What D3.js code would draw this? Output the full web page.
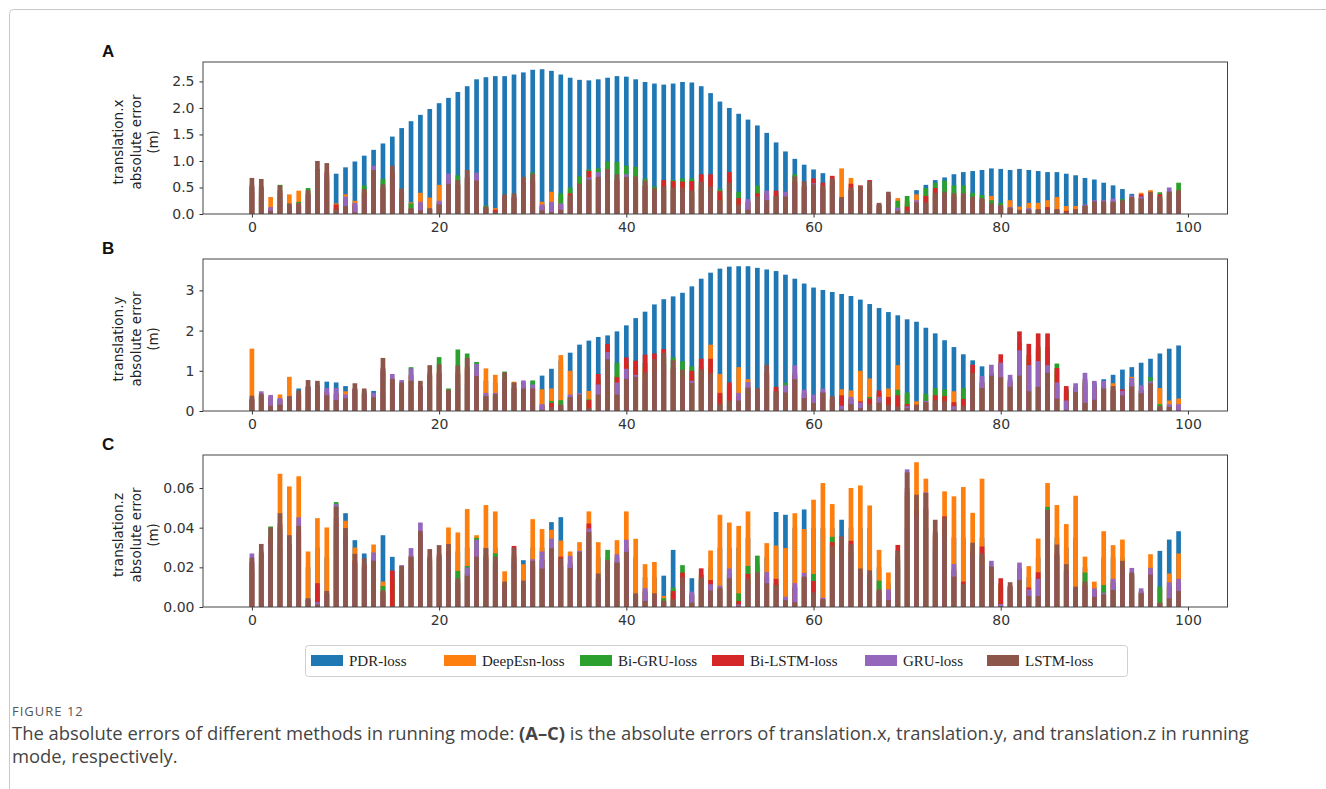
<!DOCTYPE html>
<html>
<head>
<meta charset="utf-8">
<script src="https://cdn.jsdelivr.net/npm/d3@7"></script>
<style>
body { margin: 0; background: #fff; }
svg { display: block; }
</style>
</head>
<body>
<div id="root"></div>
<script>
// series names + tab10 colours, drawn in this order (later bars cover earlier ones)
var seriesNames = ["PDR-loss", "DeepEsn-loss", "Bi-GRU-loss", "Bi-LSTM-loss", "GRU-loss", "LSTM-loss"];
var seriesColors = ["#1f77b4", "#ff7f0e", "#2ca02c", "#d62728", "#9467bd", "#8c564b"];
var xTickValues = [0, 20, 40, 60, 80, 100];
var yTicksA = [0, 0.5, 1.0, 1.5, 2.0, 2.5];
var yTicksB = [0, 1, 2, 3];
var yTicksC = [0, 0.02, 0.04, 0.06];

// ---- panel A : translation.x ----
var xPDR = [0.40,0.35,0.05,0.30,0.15,0.15,0.30,0.50,0.60,0.76, 0.88,0.99,1.10,1.21,1.33,1.46,1.62,1.75,1.87,1.98,
  2.09,2.19,2.30,2.41,2.54,2.58,2.60,2.60,2.63,2.67, 2.72,2.73,2.70,2.63,2.57,2.53,2.52,2.54,2.57,2.60,
  2.59,2.54,2.49,2.46,2.44,2.46,2.49,2.48,2.41,2.28, 2.12,2.00,1.89,1.78,1.67,1.53,1.35,1.18,1.04,0.93,
  0.84,0.77,0.65,0.25,0.45,0.40,0.50,0.10,0.30,0.05, 0.20,0.45,0.55,0.64,0.69,0.75,0.79,0.81,0.83,0.86,
  0.85,0.83,0.85,0.83,0.81,0.79,0.79,0.76,0.73,0.68, 0.65,0.59,0.54,0.47,0.38,0.30,0.35,0.30,0.35,0.40];
var xDeepEsn = [0.45,0.40,0.32,0.40,0.37,0.44,0.40,0.70,0.65,0.20, 0.37,0.25,0.42,0.65,0.50,0.70,0.40,0.22,0.40,0.31,
  0.55,0.55,0.55,0.60,0.55,0.12,0.11,0.28,0.30,0.50, 0.60,0.23,0.42,0.30,0.30,0.45,0.55,0.60,0.70,0.65,
  0.60,0.60,0.52,0.40,0.45,0.45,0.45,0.40,0.55,0.48, 0.35,0.55,0.30,0.20,0.40,0.35,0.32,0.30,0.60,0.50,
  0.50,0.45,0.55,0.86,0.68,0.45,0.50,0.15,0.35,0.30, 0.25,0.37,0.35,0.40,0.40,0.40,0.40,0.30,0.28,0.34,
  0.15,0.26,0.14,0.21,0.21,0.26,0.32,0.15,0.15,0.12, 0.18,0.18,0.20,0.20,0.30,0.40,0.45,0.30,0.38,0.40];
var xBiGRU = [0.50,0.48,0.09,0.55,0.14,0.23,0.49,0.78,0.70,0.12, 0.25,0.15,0.54,0.70,0.66,0.74,0.38,0.20,0.18,0.08,
  0.20,0.60,0.73,0.68,0.60,0.16,0.06,0.30,0.30,0.55, 0.78,0.14,0.18,0.39,0.50,0.71,0.84,0.86,0.99,0.98,
  0.91,0.89,0.67,0.52,0.55,0.64,0.67,0.67,0.60,0.62, 0.47,0.66,0.42,0.20,0.54,0.36,0.36,0.35,0.75,0.50,
  0.55,0.48,0.60,0.25,0.45,0.45,0.52,0.16,0.33,0.25, 0.34,0.20,0.49,0.59,0.63,0.54,0.54,0.40,0.36,0.26,
  0.21,0.10,0.06,0.08,0.07,0.10,0.07,0.05,0.07,0.14, 0.20,0.21,0.22,0.28,0.28,0.30,0.35,0.41,0.40,0.59];
var xBiLSTM = [0.55,0.52,0.10,0.45,0.16,0.17,0.38,0.85,0.80,0.18, 0.28,0.18,0.40,0.75,0.48,0.78,0.41,0.09,0.20,0.09,
  0.22,0.65,0.55,0.70,0.66,0.12,0.08,0.32,0.33,0.60, 0.65,0.15,0.20,0.17,0.39,0.57,0.81,0.68,0.72,0.64,
  0.62,0.60,0.54,0.42,0.64,0.62,0.61,0.62,0.75,0.75, 0.43,0.79,0.30,0.24,0.39,0.38,0.44,0.36,0.61,0.53,
  0.67,0.59,0.72,0.28,0.57,0.54,0.64,0.18,0.36,0.10, 0.14,0.22,0.34,0.49,0.36,0.33,0.33,0.28,0.26,0.17,
  0.15,0.11,0.07,0.09,0.08,0.13,0.08,0.06,0.08,0.15, 0.22,0.22,0.25,0.22,0.30,0.37,0.36,0.37,0.43,0.38];
var xGRU = [0.52,0.50,0.13,0.40,0.15,0.16,0.35,0.80,0.74,0.07, 0.33,0.21,0.38,0.91,0.45,0.72,0.40,0.09,0.23,0.09,
  0.25,0.76,0.52,0.66,0.78,0.11,0.03,0.30,0.31,0.56, 0.60,0.18,0.23,0.20,0.28,0.45,0.69,0.79,0.68,0.60,
  0.75,0.57,0.50,0.39,0.42,0.40,0.40,0.35,0.49,0.42, 0.21,0.47,0.14,0.28,0.26,0.44,0.27,0.42,0.57,0.50,
  0.58,0.43,0.54,0.26,0.40,0.42,0.50,0.17,0.34,0.12, 0.05,0.26,0.18,0.32,0.34,0.31,0.31,0.26,0.24,0.16,
  0.14,0.13,0.06,0.11,0.07,0.07,0.07,0.03,0.07,0.18, 0.26,0.26,0.29,0.21,0.35,0.33,0.34,0.26,0.50,0.36];
var xLSTM = [0.68,0.66,0.06,0.54,0.20,0.21,0.45,1.00,0.96,0.09, 0.15,0.03,0.47,0.83,0.56,0.91,0.48,0.11,0.07,0.11,
  0.18,0.57,0.64,0.83,0.63,0.14,0.04,0.37,0.39,0.70, 0.76,0.07,0.04,0.08,0.35,0.56,0.65,0.70,0.85,0.75,
  0.70,0.71,0.63,0.49,0.52,0.50,0.50,0.44,0.61,0.52, 0.26,0.59,0.18,0.08,0.33,0.26,0.34,0.33,0.71,0.62,
  0.56,0.54,0.67,0.32,0.50,0.53,0.62,0.21,0.42,0.06, 0.06,0.22,0.22,0.40,0.42,0.39,0.39,0.33,0.30,0.20,
  0.17,0.12,0.08,0.08,0.09,0.09,0.09,0.04,0.09,0.16, 0.24,0.24,0.23,0.26,0.32,0.29,0.42,0.33,0.42,0.45];

// ---- panel B : translation.y ----
var yPDR = [0.30,0.35,0.25,0.30,0.40,0.56,0.60,0.65,0.73,0.71, 0.62,0.55,0.50,0.50,0.45,0.40,0.45,0.50,0.55,0.60,
  0.65,0.50,0.60,0.65,0.70,0.75,0.70,0.75,0.70,0.72, 0.74,0.88,1.05,1.25,1.45,1.65,1.75,1.84,1.88,1.98,
  2.13,2.31,2.47,2.65,2.78,2.85,2.94,3.10,3.29,3.44, 3.54,3.59,3.60,3.60,3.56,3.52,3.48,3.39,3.29,3.17,
  3.07,3.01,2.96,2.91,2.86,2.77,2.66,2.56,2.46,2.38, 2.28,2.22,2.07,1.93,1.76,1.59,1.41,1.26,1.11,0.95,
  0.85,0.80,0.70,0.65,0.60,0.60,0.62,0.55,0.60,0.65, 0.70,0.79,0.90,1.03,1.09,1.20,1.30,1.43,1.55,1.63];
var yDeepEsn = [1.55,0.35,0.30,0.41,0.85,0.38,0.55,0.55,0.42,0.40, 0.49,0.50,0.40,0.32,0.95,0.70,0.58,0.85,0.55,0.85,
  0.95,0.40,1.00,1.05,0.95,1.06,0.90,0.80,0.73,0.58, 0.60,0.54,0.56,1.39,1.00,0.38,0.50,0.75,1.30,0.90,
  1.10,1.05,1.10,1.20,1.30,1.10,1.00,0.90,1.00,1.65, 0.92,0.55,1.09,0.79,0.45,0.90,0.45,0.60,0.85,0.40,
  0.30,0.42,0.28,0.54,0.51,1.00,0.81,0.40,0.56,1.14, 0.40,0.24,0.35,0.50,0.45,0.49,0.45,0.90,0.65,0.85,
  1.10,0.70,1.50,1.30,1.50,1.50,1.00,0.45,0.50,0.70, 0.55,0.55,0.69,0.45,0.85,0.50,0.70,0.57,0.26,0.31];
var yBiGRU = [0.25,0.38,0.30,0.25,0.28,0.40,0.58,0.58,0.45,0.42, 0.30,0.52,0.42,0.35,1.00,0.75,0.60,1.09,0.58,0.88,
  1.34,0.56,1.53,1.43,1.22,0.35,0.36,0.98,0.55,0.60, 0.76,0.12,0.25,0.27,0.32,0.36,0.29,0.80,1.40,1.20,
  1.20,1.10,1.20,1.25,1.35,1.33,1.24,1.11,1.10,1.10, 0.40,0.60,0.35,0.55,0.45,0.92,0.50,0.70,0.90,0.42,
  0.33,0.45,0.30,0.30,0.28,0.20,0.35,0.45,0.30,0.53, 0.46,0.12,0.43,0.57,0.54,0.18,0.57,1.00,0.70,0.90,
  1.20,0.70,1.70,1.40,1.60,1.60,1.18,0.50,0.55,0.75, 0.60,0.60,0.50,0.48,0.70,0.50,0.84,0.17,0.12,0.12];
var yBiLSTM = [0.28,0.40,0.35,0.28,0.30,0.42,0.62,0.60,0.48,0.45, 0.35,0.56,0.45,0.38,1.08,0.78,0.65,0.90,0.62,0.95,
  0.95,0.45,0.92,1.10,0.98,0.38,0.38,0.78,0.58,0.62, 0.55,0.14,0.20,0.13,0.34,0.38,0.27,0.92,1.67,0.84,
  1.33,1.25,1.40,1.43,1.54,1.05,0.85,1.00,1.30,1.30, 0.45,0.71,0.38,0.60,0.48,0.95,0.60,0.52,0.95,0.45,
  0.35,0.48,0.31,0.39,0.30,0.24,0.31,0.51,0.35,0.39, 0.17,0.13,0.20,0.39,0.37,0.22,0.30,1.15,0.72,0.95,
  1.41,0.75,1.98,1.67,1.93,1.93,1.07,0.62,0.58,0.80, 0.62,0.62,0.52,0.54,0.70,0.53,0.62,0.10,0.14,0.14];
var yGRU = [0.30,0.49,0.40,0.32,0.30,0.40,0.60,0.60,0.57,0.57, 0.41,0.55,0.45,0.45,1.05,0.92,0.77,1.06,0.60,0.90,
  0.90,0.42,0.90,1.05,1.17,0.45,0.45,0.75,0.56,0.76, 0.66,0.17,0.08,0.12,0.41,0.45,0.05,0.66,1.47,0.71,
  1.05,0.90,0.75,1.00,1.15,1.00,0.80,0.75,0.80,0.75, 0.13,0.20,0.45,0.72,0.45,0.90,0.40,0.64,1.14,0.53,
  0.41,0.56,0.30,0.13,0.35,0.21,0.13,0.35,0.12,0.08, 0.12,0.12,0.25,0.21,0.20,0.12,0.10,0.75,0.87,1.15,
  1.20,0.90,1.51,1.14,1.24,1.14,0.71,0.26,0.69,0.95, 0.75,0.75,0.50,0.50,0.82,0.64,0.74,0.10,0.17,0.17];
var yLSTM = [0.38,0.43,0.13,0.16,0.37,0.51,0.77,0.75,0.39,0.27, 0.32,0.69,0.56,0.34,1.32,0.80,0.71,0.75,0.75,1.14,
  1.16,0.53,1.13,1.32,0.87,0.37,0.42,0.96,0.71,0.56, 0.56,0.03,0.10,0.16,0.35,0.41,0.07,0.41,1.29,0.41,
  0.80,0.85,0.96,1.29,1.45,1.26,1.03,0.70,1.03,0.94, 0.17,0.26,0.26,0.58,0.57,1.15,0.49,0.46,0.79,0.32,
  0.20,0.46,0.37,0.04,0.17,0.07,0.17,0.21,0.16,0.11, 0.07,0.16,0.22,0.27,0.25,0.03,0.13,0.95,0.57,0.88,
  0.84,0.60,0.88,0.49,0.60,0.95,0.31,0.03,0.47,0.20, 0.28,0.56,0.62,0.39,0.61,0.44,0.69,0.12,0.10,0.02];

// ---- panel C : translation.z ----
var zPDR = [.0180,.0220,.0250,.0300,.0280,.0300,.0200,.0300,.0250,.0350, .0473,.0337,.0270,.0250,.0362,.0253,.0150,.0200,.0250,.0200,
  .0220,.0250,.0280,.0300,.0280,.0300,.0300,.0120,.0220,.0236, .0300,.0300,.0428,.0453,.0220,.0250,.0300,.0250,.0200,.0250,
  .0300,.0250,.0150,.0150,.0158,.0288,.0150,.0145,.0140,.0200, .0300,.0300,.0300,.0350,.0200,.0250,.0479,.0465,.0400,.0492,
  .0400,.0400,.0400,.0440,.0400,.0400,.0400,.0200,.0120,.0200, .0400,.0400,.0400,.0300,.0400,.0350,.0350,.0300,.0350,.0150,
  .0100,.0090,.0150,.0150,.0250,.0400,.0350,.0300,.0350,.0200, .0100,.0250,.0250,.0250,.0150,.0060,.0200,.0283,.0340,.0382];
var zDeepEsn = [.0200,.0260,.0330,.0672,.0608,.0659,.0280,.0448,.0401,.0420, .0435,.0300,.0190,.0315,.0128,.0140,.0165,.0240,.0330,.0230,
  .0250,.0401,.0376,.0494,.0362,.0514,.0482,.0180,.0250,.0216, .0443,.0393,.0389,.0335,.0280,.0327,.0482,.0327,.0250,.0337,
  .0482,.0344,.0216,.0227,.0056,.0070,.0160,.0055,.0160,.0285, .0465,.0426,.0409,.0482,.0220,.0322,.0310,.0297,.0473,.0393,
  .0541,.0625,.0519,.0290,.0600,.0613,.0512,.0288,.0174,.0240, .0560,.0730,.0647,.0360,.0583,.0558,.0605,.0475,.0647,.0180,
  .0110,.0100,.0180,.0206,.0345,.0625,.0514,.0418,.0561,.0254, .0128,.0382,.0312,.0340,.0160,.0070,.0266,.0090,.0169,.0270];
var zBiGRU = [.0220,.0270,.0406,.0400,.0300,.0360,.0035,.0100,.0065,.0529, .0330,.0220,.0205,.0225,.0106,.0150,.0175,.0250,.0350,.0245,
  .0260,.0270,.0182,.0207,.0349,.0250,.0271,.0105,.0260,.0110, .0200,.0230,.0290,.0210,.0210,.0240,.0360,.0140,.0288,.0220,
  .0280,.0058,.0075,.0058,.0044,.0098,.0211,.0060,.0165,.0110, .0085,.0165,.0069,.0207,.0259,.0145,.0120,.0042,.0095,.0145,
  .0167,.0035,.0354,.0300,.0280,.0165,.0155,.0133,.0070,.0260, .0580,.0480,.0490,.0370,.0400,.0180,.0100,.0270,.0250,.0190,
  .0120,.0105,.0190,.0080,.0150,.0505,.0260,.0180,.0085,.0174, .0075,.0111,.0120,.0195,.0165,.0075,.0160,.0103,.0100,.0120];
var zBiLSTM = [.0230,.0280,.0350,.0420,.0320,.0380,.0038,.0120,.0070,.0450, .0350,.0235,.0215,.0240,.0072,.0184,.0185,.0260,.0370,.0255,
  .0270,.0280,.0125,.0170,.0290,.0260,.0220,.0110,.0308,.0115, .0210,.0240,.0300,.0254,.0220,.0245,.0421,.0145,.0205,.0230,
  .0290,.0060,.0080,.0060,.0028,.0081,.0174,.0065,.0195,.0136, .0090,.0170,.0030,.0167,.0150,.0150,.0142,.0045,.0100,.0150,
  .0131,.0038,.0327,.0310,.0334,.0170,.0160,.0078,.0075,.0313, .0600,.0490,.0500,.0380,.0457,.0190,.0128,.0280,.0305,.0200,
  .0145,.0108,.0195,.0098,.0175,.0420,.0270,.0185,.0090,.0110, .0080,.0062,.0125,.0200,.0170,.0080,.0170,.0019,.0110,.0125];
var zGRU = [.0270,.0250,.0320,.0380,.0290,.0452,.0035,.0025,.0065,.0519, .0320,.0215,.0200,.0275,.0068,.0004,.0211,.0297,.0426,.0235,
  .0250,.0255,.0115,.0199,.0339,.0240,.0205,.0100,.0240,.0105, .0241,.0280,.0345,.0200,.0258,.0283,.0396,.0135,.0190,.0266,
  .0339,.0055,.0094,.0055,.0025,.0030,.0120,.0078,.0120,.0115, .0108,.0194,.0013,.0115,.0140,.0177,.0090,.0052,.0120,.0172,
  .0060,.0047,.0250,.0285,.0255,.0155,.0150,.0070,.0089,.0230, .0694,.0450,.0578,.0350,.0360,.0217,.0093,.0260,.0215,.0233,
  .0015,.0100,.0224,.0089,.0142,.0390,.0250,.0175,.0082,.0100, .0094,.0072,.0142,.0185,.0197,.0094,.0197,.0018,.0125,.0142];
var zLSTM = [.0249,.0318,.0401,.0473,.0362,.0409,.0044,.0013,.0081,.0507, .0398,.0268,.0246,.0233,.0084,.0005,.0207,.0254,.0384,.0292,
  .0312,.0318,.0145,.0158,.0254,.0297,.0254,.0128,.0300,.0133, .0233,.0194,.0297,.0246,.0197,.0278,.0379,.0169,.0236,.0224,
  .0278,.0069,.0030,.0069,.0032,.0039,.0150,.0022,.0150,.0083, .0098,.0145,.0007,.0142,.0175,.0120,.0111,.0035,.0024,.0153,
  .0074,.0040,.0310,.0356,.0317,.0194,.0185,.0089,.0035,.0285, .0679,.0566,.0575,.0440,.0452,.0153,.0116,.0324,.0271,.0204,
  .0003,.0125,.0136,.0056,.0056,.0490,.0315,.0216,.0103,.0128, .0051,.0064,.0086,.0233,.0174,.0069,.0163,.0022,.0044,.0081];

var panels = [
  {label: "A", ylab: "translation.x", top: 62, bottom: 214, ticks: yTicksA, fmt: d3.format(".1f"),
   data: [xPDR, xDeepEsn, xBiGRU, xBiLSTM, xGRU, xLSTM]},
  {label: "B", ylab: "translation.y", top: 259, bottom: 411, ticks: yTicksB, fmt: d3.format("d"),
   data: [yPDR, yDeepEsn, yBiGRU, yBiLSTM, yGRU, yLSTM]},
  {label: "C", ylab: "translation.z", top: 455, bottom: 607, ticks: yTicksC, fmt: d3.format(".2f"),
   data: [zPDR, zDeepEsn, zBiGRU, zBiLSTM, zGRU, zLSTM]}
];

var W = 1326, H = 789;
var svg = d3.select("#root").append("svg").attr("width", W).attr("height", H);
svg.append("rect").attr("width", W).attr("height", H).attr("fill", "#fff");

// card frame
svg.append("path").attr("d", "M9.5," + H + " V13.5 Q9.5,9.5 13.5,9.5 H" + W)
  .attr("fill", "none").attr("stroke", "#c8c8c8");

var x = d3.scaleLinear().domain([-5.225, 104.225]).range([203, 1227.5]);
var barW = 0.5;
var tickFont = "DejaVu Sans, sans-serif";

panels.forEach(function(p) {
  var ymax = d3.max(p.data, function(s) { return d3.max(s); }) * 1.05;
  var y = d3.scaleLinear().domain([0, ymax]).range([p.bottom, p.top]);
  var g = svg.append("g");

  // bars, one series after another so later ones sit on top
  p.data.forEach(function(vals, si) {
    g.append("g").selectAll("rect")
      .data(vals)
      .enter().append("rect")
      .attr("x", function(d, i) { return x(i - barW / 2); })
      .attr("width", x(barW) - x(0))
      .attr("y", function(d) { return y(d); })
      .attr("height", function(d) { return p.bottom - y(d); })
      .attr("fill", seriesColors[si]);
  });

  // axes
  var ax = g.append("g").attr("transform", "translate(0," + p.bottom + ")")
    .call(d3.axisBottom(x).tickValues(xTickValues).tickSize(3.5).tickPadding(5).tickSizeOuter(0));
  var ay = g.append("g").attr("transform", "translate(203,0)")
    .call(d3.axisLeft(y).tickValues(p.ticks).tickFormat(p.fmt).tickSize(3.5).tickPadding(5).tickSizeOuter(0));
  [ax, ay].forEach(function(a) {
    a.select(".domain").remove();
    a.selectAll("line").attr("stroke", "#333");
    a.selectAll("text").attr("fill", "#333").style("font-family", tickFont).style("font-size", "14px");
  });

  // spines
  g.append("rect").attr("x", 203).attr("y", p.top)
    .attr("width", 1227.5 - 203).attr("height", p.bottom - p.top)
    .attr("fill", "none").attr("stroke", "#444").attr("stroke-width", 1);

  // panel letter
  g.append("text").attr("x", 102).attr("y", p.top - 5).text(p.label)
    .style("font-family", "Liberation Sans, Arial, sans-serif").style("font-weight", "bold")
    .style("font-size", "17px").attr("fill", "#111");

  // y label, three lines
  var cy = (p.top + p.bottom) / 2 + 4;
  var lab = g.append("text").attr("transform", "translate(136," + cy + ") rotate(-90)")
    .attr("text-anchor", "middle").style("font-family", tickFont).style("font-size", "13.5px").attr("fill", "#222");
  [p.ylab, "absolute error", "(m)"].forEach(function(t, k) {
    lab.append("tspan").attr("x", 0).attr("y", (k - 1) * 17.5).attr("dy", "0.35em").text(t);
  });
});

// legend
var legX = [311, 444, 580, 712, 865, 987];
var lg = svg.append("g");
lg.append("rect").attr("x", 305.5).attr("y", 645.5).attr("width", 822).attr("height", 31).attr("rx", 3)
  .attr("fill", "#fff").attr("stroke", "#d0d0d0");
seriesNames.forEach(function(n, i) {
  lg.append("rect").attr("x", legX[i]).attr("y", 655).attr("width", 32).attr("height", 11).attr("fill", seriesColors[i]);
  lg.append("text").attr("x", legX[i] + 38).attr("y", 661).attr("dy", "0.35em").text(n)
    .style("font-family", "Liberation Serif, serif").style("font-size", "15px").attr("fill", "#222");
});

// caption
svg.append("text").attr("x", 12).attr("y", 716).text("FIGURE 12")
  .style("font-family", "Open Sans, sans-serif").style("font-size", "13px").style("letter-spacing", "1px").attr("fill", "#555");
var cap = svg.append("text").style("font-family", "Open Sans, sans-serif").style("font-size", "18.4px").attr("fill", "#444");
var l1 = cap.append("tspan").attr("x", 12).attr("y", 740);
l1.append("tspan").text("The absolute errors of different methods in running mode: ");
l1.append("tspan").text("(A\u2013C)").style("font-weight", "bold");
l1.append("tspan").text(" is the absolute errors of translation.x, translation.y, and translation.z in running");
cap.append("tspan").attr("x", 12).attr("y", 763).text("mode, respectively.");
</script>
</body>
</html>
